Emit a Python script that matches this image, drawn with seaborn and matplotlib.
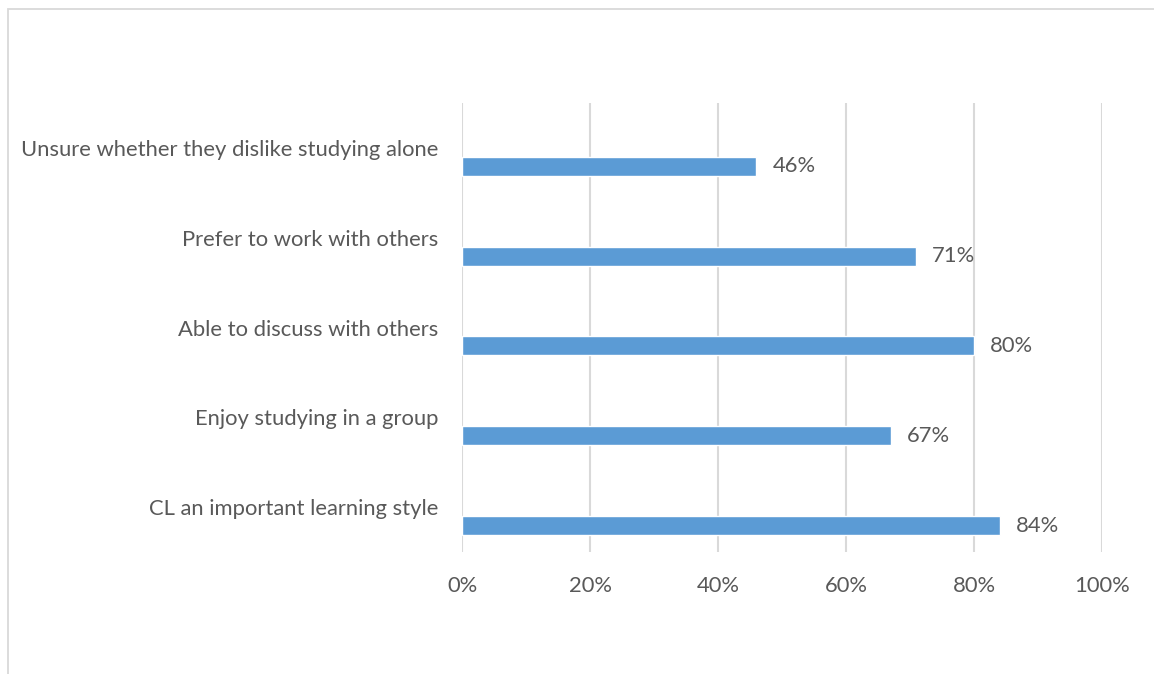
import matplotlib
matplotlib.use("Agg")
import matplotlib.pyplot as plt
import seaborn as sns
import pandas as pd
from matplotlib.patches import Rectangle
from matplotlib.ticker import FuncFormatter

categories = [
    "Unsure whether they dislike studying alone",
    "Prefer to work with others",
    "Able to discuss with others",
    "Enjoy studying in a group",
    "CL an important learning style",
]
values = [46, 71, 80, 67, 84]
value_labels = ["46%", "71%", "80%", "67%", "84%"]
x_ticks = [0, 20, 40, 60, 80, 100]

sns.set_theme(style="white")
plt.rcParams["font.family"] = ["Lato", "DejaVu Sans"]

TEXT = "#595959"
GRID = "#d9d9d9"
BAR = "#5b9bd5"
FS = 15.8

fig = plt.figure(figsize=(11.54, 6.74), dpi=100)
fig.patch.set_facecolor("white")

# chart frame
fig.patches.append(Rectangle((8 / 1154, -0.1), 1.2, 1 - 9 / 674 + 0.1,
                             transform=fig.transFigure, fill=False,
                             edgecolor=GRID, linewidth=1.3))

ax = fig.add_axes([462 / 1154, 1 - 552 / 674, 640 / 1154, 449 / 674])

df = pd.DataFrame({"category": categories, "value": values})
sns.barplot(data=df, y="category", x="value", orient="h", color=BAR,
            saturation=1, width=0.21, ax=ax, order=categories)

ax.bar_label(ax.containers[0], labels=value_labels, padding=11.5,
             fontsize=FS, color=TEXT)

offset = 0.205
ax.set_yticks([i - offset for i in range(len(categories))])
ax.set_yticklabels(categories)
ax.set_ylim(len(categories) - 1 - offset + 0.5, -offset - 0.5)

ax.set_xlim(0, 100)
ax.set_xticks(x_ticks)
ax.xaxis.set_major_formatter(FuncFormatter(lambda v, p: f"{v:.0f}%"))

ax.set_xlabel("")
ax.set_ylabel("")
for s in ax.spines.values():
    s.set_visible(False)
ax.grid(axis="x", color=GRID, linewidth=1.5)
ax.grid(axis="y", visible=False)
ax.set_axisbelow(True)
ax.tick_params(axis="both", length=0, labelsize=FS, colors=TEXT)
ax.tick_params(axis="x", pad=17)
ax.tick_params(axis="y", pad=17)

fig.savefig("out.png", dpi=100, facecolor="white")
